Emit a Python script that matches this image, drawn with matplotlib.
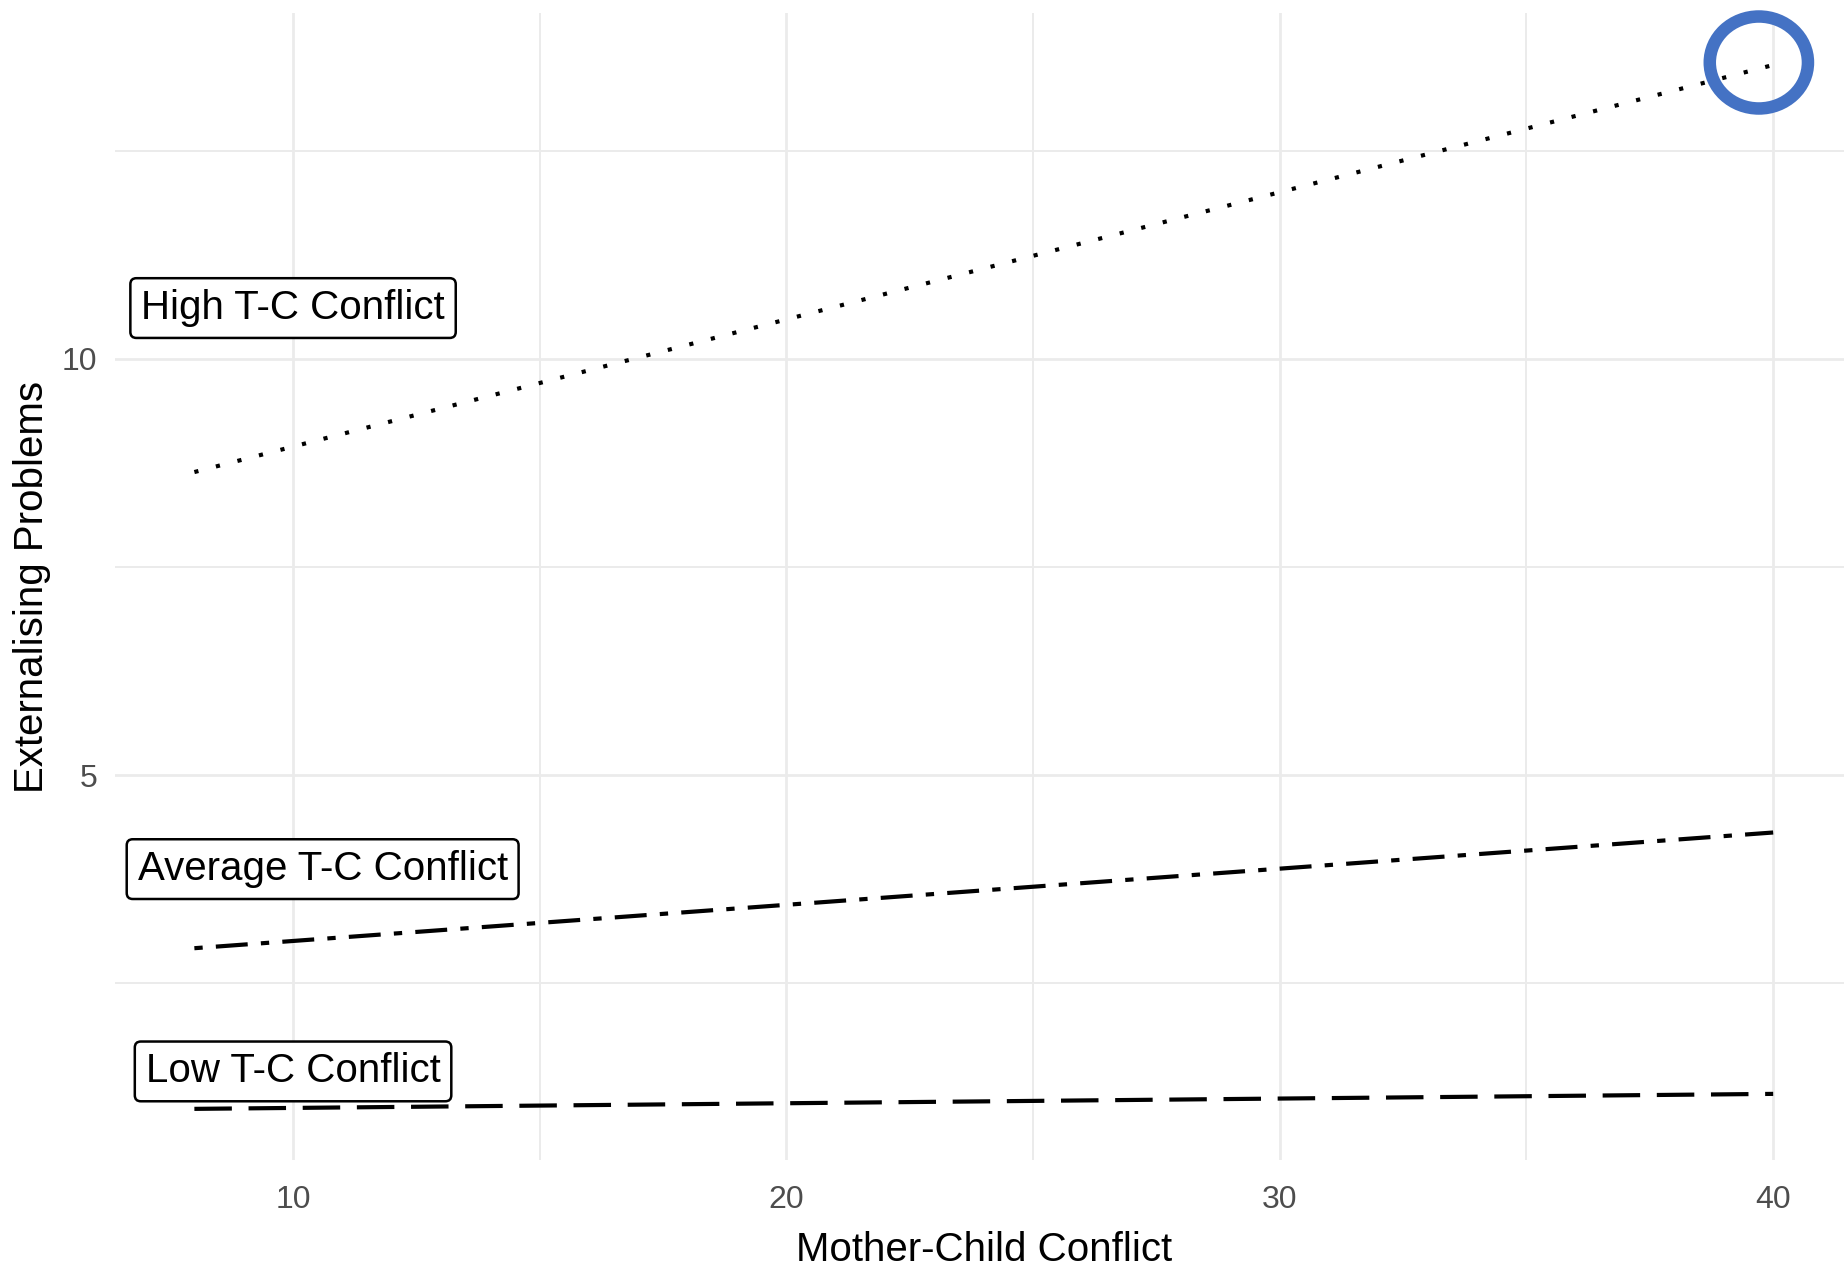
import numpy as np
import matplotlib
matplotlib.use("Agg")
import matplotlib.pyplot as plt
from matplotlib.patches import Ellipse

plt.rcParams['font.family'] = ['Liberation Sans', 'DejaVu Sans']
plt.rcParams['lines.scale_dashes'] = False

# data
mc_conflict = [8, 40]
high_tc = [8.64, 13.53]
avg_tc = [2.92, 4.31]
low_tc = [0.99, 1.17]

label_text = ["High T-C Conflict", "Average T-C Conflict", "Low T-C Conflict"]
label_x = [10.0, 10.6, 10.0]
label_y = [10.61, 3.87, 1.44]

x_major = [10, 20, 30, 40]
x_minor = [15, 25, 35]
y_major = [5, 10]
y_minor = [2.5, 7.5, 12.5]

# highlight ring (data coords)
ring_center = (39.71, 13.56)
ring_w, ring_h = 1.99, 1.105

fig = plt.figure(figsize=(18.44, 12.68), dpi=100)
ax = fig.add_axes([0.0626, 0.0848, 0.9418, 0.9053])

ax.set_xlim(6.4, 41.6)
ax.set_ylim(0.37, 14.16)

# grid like theme_minimal
for v in x_major:
    ax.axvline(v, color='#EBEBEB', lw=2.0, zorder=0)
for v in x_minor:
    ax.axvline(v, color='#EBEBEB', lw=1.4, zorder=0)
for v in y_major:
    ax.axhline(v, color='#EBEBEB', lw=2.0, zorder=0)
for v in y_minor:
    ax.axhline(v, color='#EBEBEB', lw=1.4, zorder=0)

lw = 3.0
ax.plot(mc_conflict, high_tc, color='black', lw=lw, dashes=(3, 13), dash_capstyle='butt')
ax.plot(mc_conflict, avg_tc, color='black', lw=lw, dashes=(6, 9.5, 23, 9.5), dash_capstyle='butt')
ax.plot(mc_conflict, low_tc, color='black', lw=lw, dashes=(27, 12), dash_capstyle='butt')

for t, x, y in zip(label_text, label_x, label_y):
    ax.text(x, y, t, fontsize=29, ha='center', va='center', color='black',
            bbox=dict(boxstyle='round,pad=0.27,rounding_size=0.15', fc='white', ec='black', lw=1.8))

ring = Ellipse(ring_center, ring_w, ring_h, fill=False, ec='#4472C4', lw=9, clip_on=False, zorder=5)
ax.add_patch(ring)

ax.set_xticks(x_major)
ax.set_yticks(y_major)
ax.tick_params(axis='both', length=0, labelsize=23, labelcolor='#4D4D4D')
ax.tick_params(axis='x', pad=18)
ax.tick_params(axis='y', pad=13)
for s in ax.spines.values():
    s.set_visible(False)

ax.set_xlabel('Mother-Child Conflict', fontsize=29, labelpad=11)
ax.set_ylabel('Externalising Problems', fontsize=29, labelpad=8)

fig.savefig('out.png', dpi=100)
